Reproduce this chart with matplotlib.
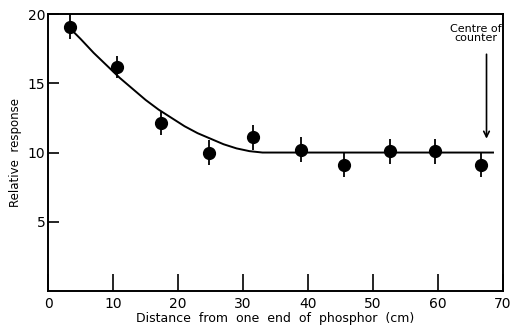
import matplotlib.pyplot as plt
import numpy as np

# measured points
dist = [3.3, 10.6, 17.4, 24.8, 31.5, 38.9, 45.6, 52.7, 59.5, 66.7]
resp = [19.1, 16.2, 12.1, 10.0, 11.1, 10.2, 9.1, 10.1, 10.1, 9.1]
err = [0.9, 0.8, 0.8, 0.9, 0.9, 0.9, 0.9, 0.9, 0.9, 0.9]

# fitted curve
curve_x = [3.3, 5, 7, 9, 11, 13, 15, 17, 19, 21, 23, 25, 27, 29, 31, 33, 36, 68.5]
curve_y = [19.0, 18.2, 17.2, 16.3, 15.4, 14.6, 13.8, 13.1, 12.5, 11.9, 11.4, 11.0, 10.6, 10.3, 10.1, 10.0, 10.0, 10.0]

plt.rcParams['font.family'] = ['DejaVu Sans']

fig = plt.figure(figsize=(5.13, 3.36), dpi=100)
ax = fig.add_axes([0.094, 0.134, 0.886, 0.824])

ax.plot(curve_x, curve_y, color='black', lw=1.4)
ax.errorbar(dist, resp, yerr=err, fmt='o', color='black', ms=8.5,
            elinewidth=1.3, capsize=0)

ax.annotate('', xy=(67.5, 10.8), xytext=(67.5, 17.3),
            arrowprops=dict(arrowstyle='->', color='black', lw=1.2))
ax.text(65.8, 19.3, 'Centre of\ncounter', ha='center', va='top',
        fontsize=8, linespacing=0.95)

ax.set_xlim(0, 70)
ax.set_ylim(0, 20)
ax.set_xticks([0, 10, 20, 30, 40, 50, 60, 70])
ax.set_yticks([5, 10, 15, 20])
ax.tick_params(axis='x', direction='in', length=12, width=1.2, labelsize=10, pad=4)
ax.tick_params(axis='y', direction='in', length=8, width=1.2, labelsize=10, pad=2)
for s in ax.spines.values():
    s.set_linewidth(1.4)

ax.set_xlabel('Distance  from  one  end  of  phosphor  (cm)', fontsize=9, labelpad=1)
ax.set_ylabel('Relative  response', fontsize=8.5, labelpad=4)

fig.savefig('out.png', dpi=100)
